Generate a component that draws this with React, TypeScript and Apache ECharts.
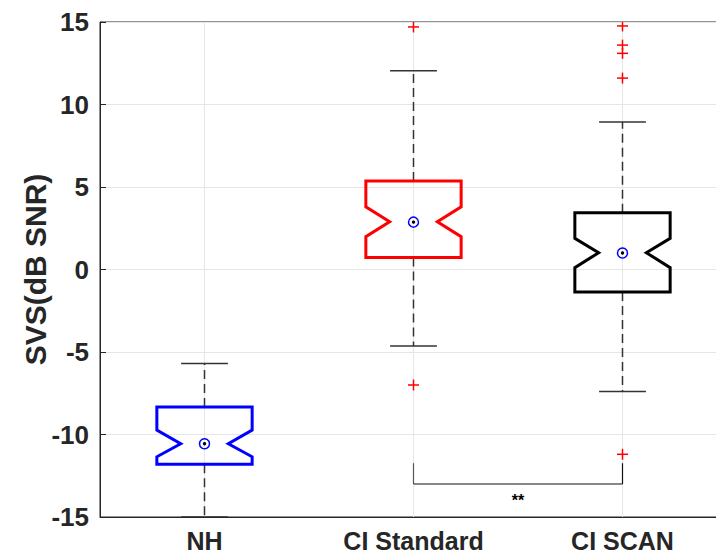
import React, { useEffect, useRef } from "react";
import * as echarts from "echarts";

// ---- Data ----
const categories = ["NH", "CI Standard", "CI SCAN"];
const q1 = [-11.8, 0.72, -1.36];
const q3 = [-8.33, 5.36, 3.44];
const medians = [-10.56, 2.9, 1.02];
const notchLow = [-11.35, 1.99, 0.11];
const notchHigh = [-9.73, 3.8, 1.89];
const whiskerLow = [-15, -4.64, -7.4];
const whiskerHigh = [-5.69, 12.05, 8.94];
const means = [-10.56, 2.87, 1.0];
const outliersNH: number[] = [];
const outliersCIStandard = [14.7, -7.0];
const outliersCIScan = [14.76, 13.6, 13.1, 11.6, -11.2];
const sigFrom = [1];
const sigTo = [2];
const sigBarLevel = [-13.0];
const sigLegTop = [-11.74];
const sigLabel = ["**"];
const yTicks = { min: -15, max: 15, interval: 5 };

// ---- Styles ----
const boxColors = ["#0000ff", "#ff0000", "#000000"];
const textColor = "#262626";
const fontFamily = "'Liberation Sans', Arial, Helvetica, sans-serif";

export default function App() {
  const ref = useRef<HTMLDivElement>(null);

  useEffect(() => {
    if (!ref.current) return;
    const chart = echarts.init(ref.current, undefined, { renderer: "svg" });

    const boxData = categories.map((_, i) => [
      i,
      q1[i],
      notchLow[i],
      medians[i],
      notchHigh[i],
      q3[i],
      whiskerLow[i],
      whiskerHigh[i],
      means[i],
    ]);

    const outlierGroups = [outliersNH, outliersCIStandard, outliersCIScan];
    const outlierData: number[][] = [];
    outlierGroups.forEach((arr, i) => arr.forEach((v) => outlierData.push([i, v])));

    const sigData = sigFrom.map((f, i) => [f, sigTo[i], sigBarLevel[i], sigLegTop[i], i]);

    const option: any = {
      animation: false,
      backgroundColor: "#ffffff",
      grid: {
        left: 100,
        top: 22,
        width: 627,
        height: 495,
        containLabel: false,
        outerBoundsMode: "none",
        show: true,
        borderColor: textColor,
        borderWidth: 1,
        backgroundColor: "#ffffff",
      },
      xAxis: {
        type: "category",
        data: categories,
        boundaryGap: true,
        axisLine: { onZero: false, lineStyle: { color: textColor, width: 1 } },
        axisTick: { show: true, inside: true, alignWithLabel: true, length: 6, lineStyle: { color: textColor } },
        axisLabel: {
          color: textColor,
          fontFamily,
          fontWeight: "bold",
          fontSize: 25,
          lineHeight: 25,
          margin: 11,
        },
        splitLine: { show: false },
      },
      yAxis: {
        type: "value",
        min: yTicks.min,
        max: yTicks.max,
        interval: yTicks.interval,
        name: "SVS(dB SNR)",
        nameLocation: "middle",
        nameGap: 50,
        nameMoveOverlap: false,
        nameTextStyle: {
          color: textColor,
          fontFamily,
          fontWeight: "bold",
          fontSize: 30,
        },
        axisLine: { show: true, lineStyle: { color: textColor, width: 1 } },
        axisTick: { show: true, inside: true, length: 6, lineStyle: { color: textColor } },
        axisLabel: {
          color: textColor,
          fontFamily,
          fontWeight: "bold",
          fontSize: 26,
          margin: 11,
        },
        splitLine: { show: true, lineStyle: { color: "#e6e6e6", width: 1 } },
      },
      series: [
        {
          type: "custom",
          clip: true,
          data: boxData,
          renderItem: (params: any, api: any) => {
            const idx = api.value(0);
            const band = api.size([1, 0])[0];
            const hw = band * 0.228;
            const nw = hw * 0.5;
            const cw = band * 0.112;
            const cx = api.coord([idx, 0])[0];
            const y = (v: number) => api.coord([idx, v])[1];
            const yQ1 = y(api.value(1));
            const yNL = y(api.value(2));
            const yMed = y(api.value(3));
            const yNH = y(api.value(4));
            const yQ3 = y(api.value(5));
            const yWL = y(api.value(6));
            const yWH = y(api.value(7));
            const yMean = y(api.value(8));
            const color = boxColors[params.dataIndex];
            const gTop = y(yTicks.max);
            const gBot = y(yTicks.min);
            const whiskerStyle = { stroke: "#333333", lineWidth: 1.5, lineDash: [9, 5] };
            const capStyle = { stroke: "#333333", lineWidth: 1.5 };
            return {
              type: "group",
              children: [
                { type: "line", shape: { x1: cx, y1: gTop, x2: cx, y2: gBot }, style: { stroke: "#e6e6e6", lineWidth: 1 } },
                { type: "line", shape: { x1: cx, y1: yQ3, x2: cx, y2: yWH }, style: whiskerStyle },
                { type: "line", shape: { x1: cx, y1: yQ1, x2: cx, y2: yWL }, style: whiskerStyle },
                { type: "line", shape: { x1: cx - cw, y1: yWH, x2: cx + cw, y2: yWH }, style: capStyle },
                { type: "line", shape: { x1: cx - cw, y1: yWL, x2: cx + cw, y2: yWL }, style: capStyle },
                {
                  type: "polygon",
                  shape: {
                    points: [
                      [cx - hw, yQ3],
                      [cx + hw, yQ3],
                      [cx + hw, yNH],
                      [cx + nw, yMed],
                      [cx + hw, yNL],
                      [cx + hw, yQ1],
                      [cx - hw, yQ1],
                      [cx - hw, yNL],
                      [cx - nw, yMed],
                      [cx - hw, yNH],
                    ],
                  },
                  style: { fill: "none", stroke: color, lineWidth: 3, lineJoin: "miter" },
                },
                { type: "circle", shape: { cx, cy: yMean, r: 5 }, style: { fill: "none", stroke: "#0000ff", lineWidth: 1.5 } },
                { type: "circle", shape: { cx, cy: yMean, r: 1.7 }, style: { fill: "#000000" } },
              ],
            };
          },
        },
        {
          type: "custom",
          clip: true,
          data: outlierData,
          renderItem: (params: any, api: any) => {
            const [px, py] = api.coord([api.value(0), api.value(1)]);
            const s = 5.5;
            const st = { stroke: "#ff0000", lineWidth: 1.5 };
            return {
              type: "group",
              children: [
                { type: "line", shape: { x1: px - s, y1: py, x2: px + s, y2: py }, style: st },
                { type: "line", shape: { x1: px, y1: py - s, x2: px, y2: py + s }, style: st },
              ],
            };
          },
        },
        {
          type: "custom",
          clip: false,
          data: sigData,
          renderItem: (params: any, api: any) => {
            const [x1, yBar] = api.coord([api.value(0), api.value(2)]);
            const [x2, yLeg] = api.coord([api.value(1), api.value(3)]);
            const label = sigLabel[api.value(4)];
            const st = { stroke: "#111111", lineWidth: 1.2 };
            return {
              type: "group",
              children: [
                { type: "line", shape: { x1, y1: yLeg, x2: x1, y2: yBar }, style: { stroke: "#555555", lineWidth: 1.2 } },
                { type: "line", shape: { x1: x2, y1: yLeg, x2, y2: yBar }, style: st },
                { type: "line", shape: { x1, y1: yBar, x2, y2: yBar }, style: st },
                {
                  type: "text",
                  x: (x1 + x2) / 2,
                  y: yBar + 16,
                  style: {
                    text: label,
                    fontSize: 16,
                    fontWeight: "bold",
                    fontFamily,
                    fill: "#000000",
                    align: "center",
                    verticalAlign: "middle",
                  },
                },
              ],
            };
          },
        },
      ],
    };

    chart.setOption(option);
    return () => chart.dispose();
  }, []);

  return (
    <div
      ref={ref}
      style={{ position: "fixed", left: 0, top: 0, width: 716, height: 555, background: "#fff" }}
    />
  );
}
